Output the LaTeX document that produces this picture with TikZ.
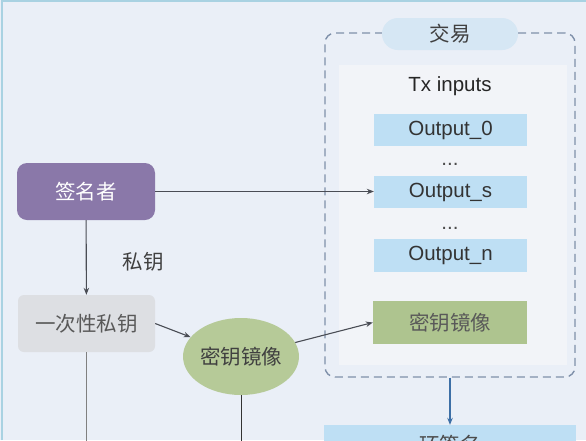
\documentclass[tikz,border=0pt]{standalone}
\usepackage{fontspec}
\setmainfont{Liberation Sans}
\newfontfamily\cjk{Noto Sans CJK SC}
\usetikzlibrary{arrows.meta,shapes.geometric}
\definecolor{bgc}{HTML}{EAEFF7}
\definecolor{panelc}{HTML}{F2F4F8}
\definecolor{outc}{HTML}{BEDFF4}
\definecolor{kic}{HTML}{AEC48F}
\definecolor{ellc}{HTML}{B6CA98}
\definecolor{signc}{HTML}{8A78A9}
\definecolor{otkc}{HTML}{DDDFE3}
\definecolor{dashc}{HTML}{7F90AA}
\definecolor{pillc}{HTML}{D6E7F4}
\definecolor{arrc}{HTML}{4A4D55}
\definecolor{bluec}{HTML}{3D6FA6}
\definecolor{framec}{HTML}{A9D2E2}
\tikzset{
  base/.style={inner sep=0pt, font=\fontsize{20.5}{24}\selectfont},
  signbox/.style={base, fill=signc, rounded corners=10pt, minimum width=138pt, minimum height=57pt, text=white, font=\cjk\fontsize{20.5}{24}\selectfont},
  otkbox/.style={base, fill=otkc, rounded corners=6pt, minimum width=137pt, minimum height=57pt, text=black!65, font=\cjk\fontsize{20.5}{24}\selectfont},
  ellbox/.style={base, ellipse, fill=ellc, minimum width=114pt, minimum height=77pt, text=black!75, font=\cjk\fontsize{20.5}{24}\selectfont},
  outbox/.style={base, fill=outc, minimum width=153pt, minimum height=32pt, text=black!80},
  kibox/.style={base, fill=kic, minimum width=154pt, minimum height=43pt, text=black!65, font=\cjk\fontsize{20.5}{24}\selectfont},
  arr/.style={draw=arrc, line width=1.1pt, -{Stealth[length=7pt,width=5.5pt]}},
  plain/.style={draw=arrc, line width=1.1pt},
}
\begin{document}
\begin{tikzpicture}[x=1pt,y=-1pt]
\useasboundingbox (0,0) rectangle (586,440);
\fill[bgc] (0,0) rectangle (586,440);
\draw[framec, line width=2pt] (2,440) -- (2,1) -- (586,1);
% container
\node[draw=dashc, line width=1.4pt, dash pattern=on 8pt off 5pt, rounded corners=10pt, minimum width=250pt, minimum height=344pt, inner sep=0pt] (tx) at (450,205) {};
\node[fill=panelc, minimum width=228pt, minimum height=300pt, inner sep=0pt] (panel) at (453,215) {};
\node[base, fill=pillc, rounded corners=16pt, minimum width=136pt, minimum height=32pt, text=black!75, font=\cjk\fontsize{20.5}{24}\selectfont] (pill) at (450,34) {交易};
\node[base, text=black!85] (txin) at (450,86) {Tx inputs};
\node[outbox] (out0) at (450.5,130) {Output\_0};
\node[base, anchor=base, text=black!70] (dots1) at (450,165) {...};
\node[outbox] (outs) at (450.5,192) {Output\_s};
\node[base, anchor=base, text=black!70] (dots2) at (450,229) {...};
\node[outbox, minimum height=33pt] (outn) at (450.5,255.5) {Output\_n};
\node[kibox] (kib) at (450,322.5) {密钥镜像};
% left side
\node[signbox] (signer) at (86,191.5) {签名者};
\node[otkbox] (otk) at (86.5,323.5) {一次性私钥};
\node[ellbox] (ki) at (241,356.5) {密钥镜像};
\node[base, text=black!75, font=\cjk\fontsize{20.5}{24}\selectfont] (pk) at (143,262) {私钥};
% bottom box
\node[base, fill=outc, minimum width=252pt, minimum height=40pt, text=black!70, font=\cjk\fontsize{20.5}{24}\selectfont] (ring) at (450,445) {环签名};
\coordinate (e1) at (86.5,442);
\coordinate (e2) at (241,442);
% connectors
\draw[arr] (signer.east) -- (signer.east -| outs.west);
\draw[arr] (signer) -- (otk);
\draw[draw=black!50, line width=1.8pt] (otk.south) -- (e1);
\draw[arr] (otk.east) -- (ki);
\draw[arr] (ki) -- (kib.west);
\draw[draw=black!80, line width=1pt] (ki.south) -- (e2);
\draw[draw=bluec, line width=1.1pt, -{Stealth[length=7pt,width=5.5pt]}] (tx.south) -- (ring.north);
\end{tikzpicture}
\end{document}
